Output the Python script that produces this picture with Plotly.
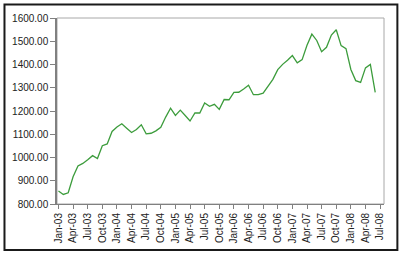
import plotly.graph_objects as go

months = ["Jan","Feb","Mar","Apr","May","Jun","Jul","Aug","Sep","Oct","Nov","Dec"]
values = [
    855.70, 841.15, 848.18, 916.92, 963.59, 974.50, 990.31, 1008.01, 995.97, 1050.71, 1058.20, 1111.92,
    1131.13, 1144.94, 1126.21, 1107.30, 1120.68, 1140.84, 1101.72, 1104.24, 1114.58, 1130.20, 1173.82, 1211.92,
    1181.27, 1203.60, 1180.59, 1156.85, 1191.50, 1191.33, 1234.18, 1220.33, 1228.81, 1207.01, 1249.48, 1248.29,
    1280.08, 1280.66, 1294.83, 1310.61, 1270.09, 1270.20, 1276.66, 1303.82, 1335.85, 1377.94, 1400.63, 1418.30,
    1438.24, 1406.82, 1420.86, 1482.37, 1530.62, 1503.35, 1455.27, 1473.99, 1526.75, 1549.38, 1481.14, 1468.36,
    1378.55, 1330.63, 1322.70, 1385.59, 1400.38, 1280.00,
]
x_idx = list(range(len(values)))
tick_idx = list(range(0, 67, 3))
tick_labels = [f"{months[i % 12]}-{(3 + i // 12):02d}" for i in tick_idx]
y_ticks = [800, 900, 1000, 1100, 1200, 1300, 1400, 1500, 1600]

fig = go.Figure()
fig.add_trace(go.Scatter(x=x_idx, y=values, mode="lines",
                         line=dict(color="#3c9c3c", width=1.3), hoverinfo="skip"))

W, H = 400, 256
L, R, T, B = 54, 16, 15, 49
pw, ph = W - L - R, H - T - B

def px(x):
    return (x - L) / pw

def py(y):
    return (H - B - y) / ph

fig.update_layout(
    width=W, height=H,
    margin=dict(l=L, r=R, t=T, b=B),
    paper_bgcolor="white", plot_bgcolor="white",
    showlegend=False,
    font=dict(family="Liberation Sans, Arial, sans-serif", size=10, color="#222222"),
    xaxis=dict(range=[-0.3, 66.8], tickmode="array", tickvals=tick_idx, ticktext=tick_labels,
               tickangle=-90, ticks="outside", ticklen=4, tickcolor="#808080",
               showline=True, linecolor="#808080", linewidth=1, mirror=False,
               showgrid=False, zeroline=False),
    yaxis=dict(range=[800, 1600], tickmode="array", tickvals=y_ticks,
               ticktext=[f"{v:.2f}" for v in y_ticks],
               ticks="outside", ticklen=5, tickcolor="#808080",
               showline=True, linecolor="#808080", linewidth=1.5, mirror=False,
               showgrid=False, zeroline=False),
    shapes=[
        dict(type="rect", xref="paper", yref="paper", x0=0, x1=1, y0=0, y1=1,
             line=dict(color="#a8a8a8", width=1), layer="below"),
        dict(type="rect", xref="paper", yref="paper",
             x0=px(1), x1=px(397.5), y0=py(254.5), y1=py(1),
             line=dict(color="#1a1a1a", width=2)),
    ],
)

fig.write_html("out.html")
